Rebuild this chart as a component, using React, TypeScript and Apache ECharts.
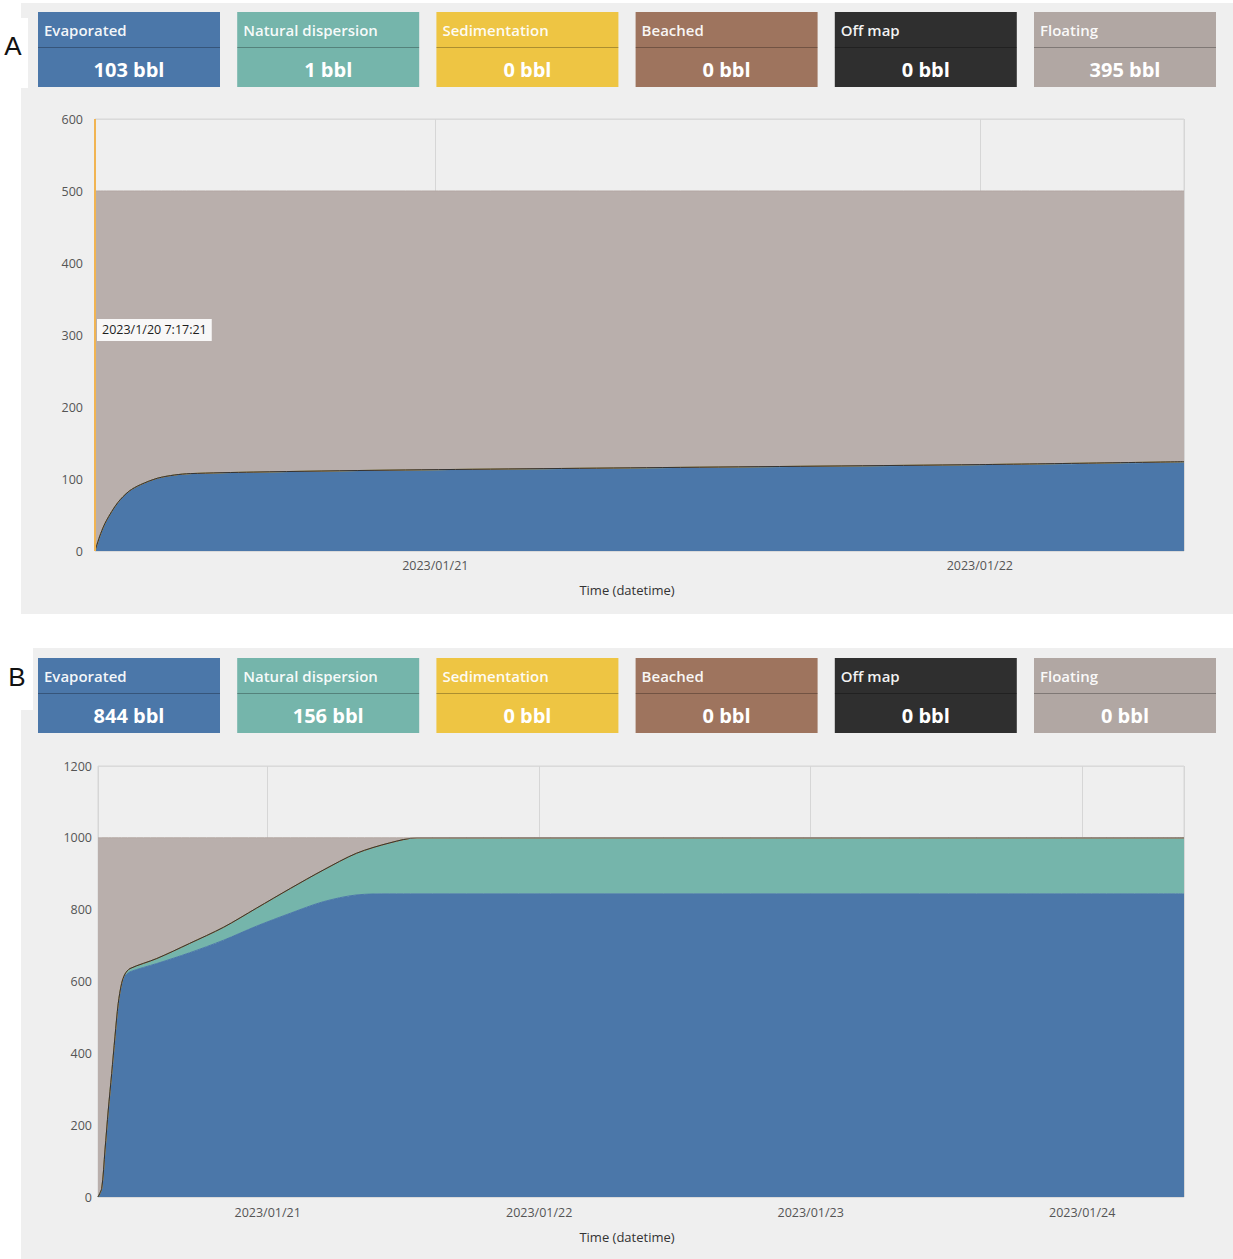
import React, { useEffect, useRef } from "react";
import * as echarts from "echarts";

// ---------- data ----------
const SERIES_NAMES = ["Evaporated", "Natural dispersion", "Sedimentation", "Beached", "Off map", "Floating"];
const BOX_VALUES_A = [103, 1, 0, 0, 0, 395];
const BOX_VALUES_B = [844, 156, 0, 0, 0, 0];

// Chart A: hours after start
const HOURS_A = [0, 0.25, 0.5, 1, 1.5, 2, 2.75, 3.5, 4.2, 7, 13, 25, 39, 48];
const EVAP_A = [0, 24, 42, 67, 83, 92, 101, 105.5, 107, 109, 111.5, 115, 119, 123];
const DISP_A = [0, 0, 0, 0, 0, 0, 0, 0, 0.5, 0.6, 0.8, 0.9, 1, 1];
const SED_A = [0, 0, 0, 0, 0, 0, 0, 0, 0, 0, 0, 0, 0, 0];
const BEACH_A = [0, 0, 0, 0, 0, 0, 0, 0, 0, 0, 0, 0, 0, 0];
const OFFMAP_A = [0, 0, 0, 0, 0, 0, 0, 0, 0, 0, 0, 0, 0, 0];
const FLOAT_A = [500, 476, 458, 433, 417, 408, 399, 394.5, 392.5, 390.4, 387.7, 384.1, 380, 376];

// Chart B: hours after start
const HOURS_B = [0, 0.33, 0.62, 0.91, 1.21, 1.5, 1.79, 2.09, 2.39, 2.83, 5.2, 8.1, 11.1, 14, 17, 19.9, 22.85, 25.8, 28.2, 40, 60, 80, 96];
const EVAP_B = [0, 24, 131, 242, 344, 446, 537, 592, 615, 627, 650, 680, 715, 754, 790, 822, 841, 844, 844, 844, 844, 844, 844];
const DISP_B = [0, 0, 0, 0, 0, 0, 2, 3, 6, 9, 14, 26, 36, 50, 69, 88, 116, 142, 156, 156, 156, 156, 156];
const SED_B = [0, 0, 0, 0, 0, 0, 0, 0, 0, 0, 0, 0, 0, 0, 0, 0, 0, 0, 0, 0, 0, 0, 0];
const BEACH_B = [0, 0, 0, 0, 0, 0, 0, 0, 0, 0, 0, 0, 0, 0, 0, 0, 0, 0, 0, 0, 0, 0, 0];
const OFFMAP_B = [0, 0, 0, 0, 0, 0, 0, 0, 0, 0, 0, 0, 0, 0, 0, 0, 0, 0, 0, 0, 0, 0, 0];
const FLOAT_B = [1000, 976, 869, 758, 656, 554, 461, 405, 379, 364, 336, 294, 249, 196, 141, 90, 43, 14, 0, 0, 0, 0, 0];

const Y_MAX_A = 600;
const Y_STEP_A = 100;
const Y_MAX_B = 1200;
const Y_STEP_B = 200;
const CURSOR_LABEL = "2023/1/20 7:17:21";
const CURSOR_LABEL_Y = 307;
const X_NAME = "Time (datetime)";

// ---------- styles ----------
const BOX_COLORS = ["#4b77a9", "#75b5ab", "#eec543", "#9e745e", "#2f2f2f", "#b1a7a3"];
const AREA_COLORS = ["#4b77a9", "#75b5ab", "#eec543", "#9e745e", "#2f2f2f", "#b9afac"];
const LINE_COLORS = ["#4b77a9", "#75b5ab", "#eec543", "#9e745e", "#333333", "#b3a6a2"];
const FONT = '"Open Sans", "DejaVu Sans", sans-serif';

const HOUR = 3600000;
const DAY = 24 * HOUR;
const START_A = new Date(2023, 0, 20, 9, 0, 0).getTime();
const END_A = START_A + 48 * HOUR;
const START_B = new Date(2023, 0, 20, 9, 0, 0).getTime();
const END_B = START_B + 96 * HOUR;

function pairs(start: number, hours: number[], vals: number[]) {
  return hours.map((h, i) => [start + h * HOUR, vals[i]]);
}

function pad(n: number) {
  return n < 10 ? "0" + n : "" + n;
}

function dayLabel(v: number) {
  const d = new Date(v);
  if (d.getHours() === 0 && d.getMinutes() === 0) {
    return d.getFullYear() + "/" + pad(d.getMonth() + 1) + "/" + pad(d.getDate());
  }
  return "";
}

function boxes(top: number) {
  const els: any[] = [];
  SERIES_NAMES.forEach((name, i) => {
    const x = 38 + i * 199.2;
    els.push({
      type: "rect",
      z: 10,
      shape: { x, y: top, width: 182, height: 75 },
      style: { fill: BOX_COLORS[i] },
    });
    els.push({
      type: "line",
      z: 11,
      shape: { x1: x, y1: top + 35.5, x2: x + 182, y2: top + 35.5 },
      style: { stroke: "rgba(0,0,0,0.28)", lineWidth: 1 },
    });
  });
  return els;
}

function boxTexts(top: number, values: number[]) {
  const els: any[] = [];
  SERIES_NAMES.forEach((name, i) => {
    const x = 38 + i * 199.2;
    els.push({
      type: "text",
      z: 12,
      x: x + 6,
      y: top + 18,
      style: {
        text: name,
        fill: "rgba(255,255,255,0.95)",
        fontSize: 15,
        fontFamily: FONT,
        fontWeight: 600,
        textAlign: "left",
        textVerticalAlign: "middle",
      },
    });
    els.push({
      type: "text",
      z: 12,
      x: x + 91,
      y: top + 57,
      style: {
        text: values[i] + " bbl",
        fill: "#ffffff",
        fontSize: 20,
        fontFamily: FONT,
        fontWeight: "bold",
        textAlign: "center",
        textVerticalAlign: "middle",
      },
    });
  });
  return els;
}

function makeSeries(idx: number, start: number, hours: number[], cols: number[][], stack: string) {
  return cols.map((vals, i) => {
    const s: any = {
      name: SERIES_NAMES[i],
      type: "line",
      xAxisIndex: idx,
      yAxisIndex: idx,
      stack,
      data: pairs(start, hours, vals),
      symbol: "none",
      showSymbol: false,
      smooth: 0.3,
      lineStyle: { width: 1, color: LINE_COLORS[i] },
      itemStyle: { color: AREA_COLORS[i] },
      areaStyle: { color: AREA_COLORS[i], opacity: 1 },
      emphasis: { disabled: true },
    };
    return s;
  });
}

function xAxis(gridIndex: number, min: number, max: number, margin: number) {
  return {
    type: "time",
    gridIndex,
    min,
    max,
    minInterval: DAY,
    maxInterval: DAY,
    axisLine: { show: false },
    axisTick: { show: false },
    axisLabel: {
      color: "#555555",
      fontSize: 12.5,
      fontFamily: FONT,
      margin,
      formatter: (v: number) => dayLabel(v),
    },
    splitLine: { show: true, lineStyle: { color: "#d6d6d6", width: 1 } },
  };
}

function yAxis(gridIndex: number, max: number, step: number, margin: number) {
  return {
    type: "value",
    gridIndex,
    min: 0,
    max,
    interval: step,
    axisLine: { show: false },
    axisTick: { show: false },
    axisLabel: {
      color: "#555555",
      fontSize: 12.5,
      fontFamily: FONT,
      margin,
      formatter: (v: number) => String(v),
    },
    splitLine: { show: true, lineStyle: { color: "#dadada", width: 1 } },
  };
}

export default function App() {
  const ref = useRef<HTMLDivElement>(null);

  useEffect(() => {
    if (!ref.current) return;
    const chart = echarts.init(ref.current, null, { renderer: "svg" });

    const seriesA = makeSeries(0, START_A, HOURS_A, [EVAP_A, DISP_A, SED_A, BEACH_A, OFFMAP_A, FLOAT_A], "a");
    seriesA[0].markLine = {
      silent: true,
      symbol: "none",
      animation: false,
      lineStyle: { color: "#f1b452", width: 2, type: "solid" },
      label: { show: false },
      data: [{ xAxis: START_A }],
    };
    seriesA[0].markPoint = {
      silent: true,
      symbol: "rect",
      symbolSize: 0,
      animation: false,
      itemStyle: { color: "transparent", borderWidth: 0 },
      label: {
        show: true,
        position: "right",
        distance: 2,
        formatter: CURSOR_LABEL,
        color: "#1e1e1e",
        fontSize: 12.5,
        fontFamily: FONT,
        backgroundColor: "rgba(255,255,255,0.9)",
        borderWidth: 0,
        padding: [5, 5, 4, 5],
      },
      data: [{ coord: [START_A, CURSOR_LABEL_Y] }],
    };
    const seriesB = makeSeries(1, START_B, HOURS_B, [EVAP_B, DISP_B, SED_B, BEACH_B, OFFMAP_B, FLOAT_B], "b");

    const graphic: any[] = [
      { type: "rect", z: 5, shape: { x: 0, y: 18, width: 28, height: 70 }, style: { fill: "#ffffff" } },
      {
        type: "text",
        z: 6,
        x: 13,
        y: 46,
        style: { text: "A", fill: "#111111", fontSize: 26, fontFamily: "Liberation Sans, Arial, sans-serif", textAlign: "center", textVerticalAlign: "middle" },
      },
      { type: "rect", z: 5, shape: { x: 0, y: 648, width: 33, height: 62 }, style: { fill: "#ffffff" } },
      {
        type: "text",
        z: 6,
        x: 17,
        y: 677,
        style: { text: "B", fill: "#111111", fontSize: 26, fontFamily: "Liberation Sans, Arial, sans-serif", textAlign: "center", textVerticalAlign: "middle" },
      },
      ...boxes(12),
      ...boxTexts(12, BOX_VALUES_A),
      ...boxes(658),
      ...boxTexts(658, BOX_VALUES_B),
      {
        type: "text",
        z: 6,
        x: 627,
        y: 590,
        style: { text: X_NAME, fill: "#333333", fontSize: 13, fontFamily: FONT, textAlign: "center", textVerticalAlign: "middle" },
      },
      {
        type: "text",
        z: 6,
        x: 627,
        y: 1237,
        style: { text: X_NAME, fill: "#333333", fontSize: 13, fontFamily: FONT, textAlign: "center", textVerticalAlign: "middle" },
      },
    ];

    chart.setOption({
      animation: false,
      backgroundColor: "transparent",
      textStyle: { fontFamily: FONT },
      grid: [
        { left: 95, top: 119, width: 1089, height: 432, show: true, borderColor: "#d6d6d6", borderWidth: 1, backgroundColor: "transparent" },
        { left: 98, top: 766, width: 1086, height: 431, show: true, borderColor: "#d6d6d6", borderWidth: 1, backgroundColor: "transparent" },
      ],
      xAxis: [xAxis(0, START_A, END_A, 8), xAxis(1, START_B, END_B, 9)],
      yAxis: [yAxis(0, Y_MAX_A, Y_STEP_A, 12), yAxis(1, Y_MAX_B, Y_STEP_B, 6)],
      series: [...seriesA, ...seriesB],
      graphic,
    });

    return () => chart.dispose();
  }, []);

  return (
    <div style={{ position: "absolute", left: 0, top: 0, width: 1233, height: 1259, background: "#ffffff", overflow: "hidden" }}>
      <div style={{ position: "absolute", left: 21, top: 3, width: 1212, height: 611, background: "#efefef" }} />
      <div style={{ position: "absolute", left: 21, top: 648, width: 1212, height: 611, background: "#efefef" }} />
      <div ref={ref} style={{ position: "absolute", left: 0, top: 0, width: 1233, height: 1259 }} />
    </div>
  );
}
